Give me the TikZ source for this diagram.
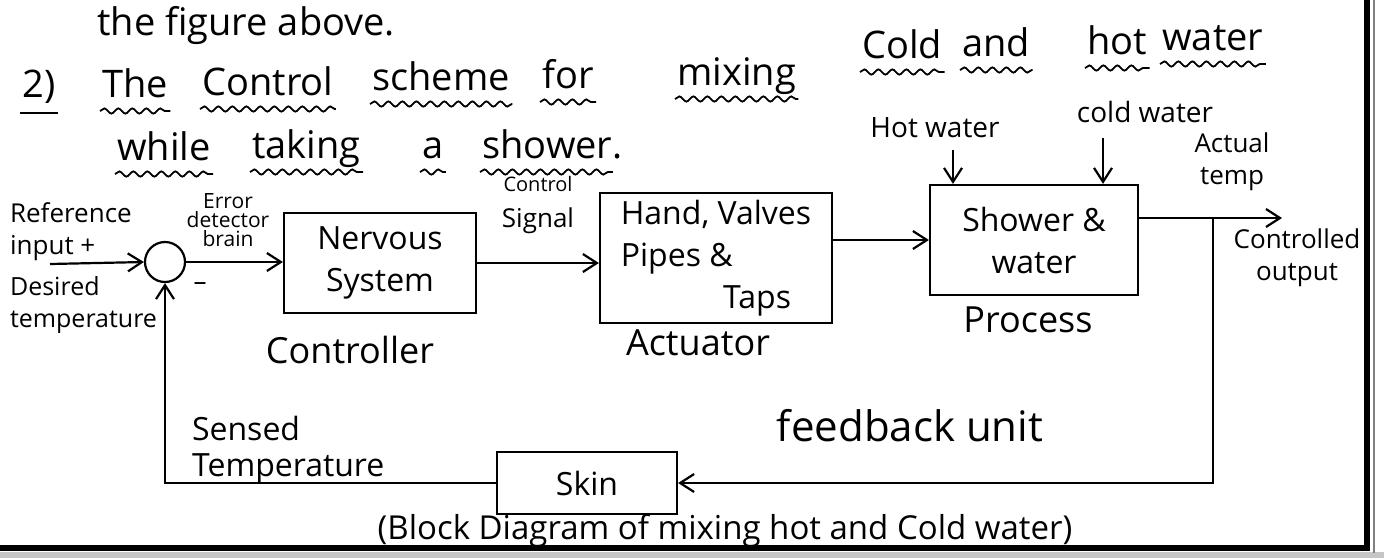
\documentclass[tikz,border=0pt]{standalone}
\usepackage{fontspec}
\setmainfont{Open Sans}
\usetikzlibrary{arrows.meta, decorations.pathmorphing}
\begin{document}
\begin{tikzpicture}[
            x=0.5pt, y=-0.5pt,
            block/.style={draw, line width=1.1pt, align=center, font=\fontsize{16}{21}\selectfont},
            sum/.style={draw, line width=1.1pt, circle, minimum size=20pt, inner sep=0pt},
            sig/.style={-{Straight Barb[length=7pt, width=9pt]}, line width=1.1pt},
            title/.style={anchor=base west, inner sep=1pt, font=\fontsize{19}{22}\selectfont},
            lab/.style={align=center, font=\fontsize{13}{16}\selectfont},
            big/.style={font=\fontsize{18}{20}\selectfont},
            note/.style={align=center, font=\fontsize{10.5}{9.5}\selectfont},
            wavy/.style={decorate, decoration={snake, amplitude=1.3pt, segment length=7pt}, line width=0.9pt}
        ]
        \useasboundingbox (0,0) rectangle (1384,558);

        % Rahmen
        \fill[gray!45] (0,552) rectangle (1384,558);
        \draw[line width=3pt] (0,548) -- (1367,548) -- (1367,0);
        \draw[gray, line width=0.6pt] (1374,0) -- (1374,553);

        % Überschrift
        \node[title] (fig) at (95,35) {the figure above.};
        \foreach \w/\x/\y/\n in {2)/20/97/w0, The/100/97/w1, Control/200/95/w2,
                scheme/370/90/w3, for/540/88/w4, mixing/675/85/w5, Cold/860/58/w6,
                and/960/56/w7, hot/1085/54/w8, water/1160/50/w9,
                while/115/160/v1, taking/250/158/v2, a/420/158/v3, shower./480/158/v4} {
                \node[title] (\n) at (\x,\y) {\w};
            }
        \draw[line width=1.1pt] ([yshift=-8pt]w0.base west) -- ([yshift=-8pt]w0.base east);
        \foreach \n in {w1, w2, w3, w4, w5, w6, w7, w8, w9, v1, v2, v3} {
                \draw[wavy] ([yshift=-7pt]\n.base west) -- ([yshift=-7pt]\n.base east);
            }
        \draw[wavy] ([yshift=-7pt]v4.base west) -- ([yshift=-7pt, xshift=-6pt]v4.base east);

        % Blöcke
        \node[sum] (sum) at (165,262) {};
        \node[block, minimum width=96pt, minimum height=50pt] (ctrl) at (380,263) {Nervous\\System};
        \node[block, minimum width=116pt, minimum height=57pt, align=left] (act) at (716,258) {Hand, Valves\\Pipes \&\\\hspace{3.2em}Taps};
        \node[block, minimum width=104pt, minimum height=55pt] (proc) at (1034,240) {Shower \&\\water};
        \node[block, minimum width=90pt, minimum height=31pt] (skin) at (587,483) {Skin};

        \coordinate (in) at (50,264);
        \coordinate (hw) at (953,150);
        \coordinate (cw) at (1103,138);
        \coordinate (out) at (1282,218);
        \coordinate (br) at (1213,218);

        % Signalpfeile
        \draw[sig] (in) -- (sum.west);
        \draw[sig] (sum.east) -- (ctrl.west |- sum.east);
        \draw[sig] (ctrl.east) -- (act.west |- ctrl.east);
        \draw[sig] (act.east |- proc.west) -- (proc.west);
        \draw[sig] (hw) -- (hw |- proc.north);
        \draw[sig] (cw) -- (cw |- proc.north);
        \draw[sig] (proc.east |- out) -- (out);
        \draw[sig] (br) |- (skin.east);
        \draw[sig] (skin.west) -| (sum.south);

        % Beschriftungen
        \node[lab, align=left, anchor=west] (ref) at (3,232) {Reference\\input +};
        \node[lab, align=left, anchor=west, font=\fontsize{12.5}{16}\selectfont] (des) at (3,305) {Desired\\temperature};
        \node[note] (err) at (228,220) {Error\\detector\\brain};
        \node[lab] (minus) at (200,287) {--};
        \node[lab] (csig) at (538,205) {{\fontsize{10}{12}\selectfont Control}\\[2pt]Signal};
        \node[lab, font=\fontsize{14}{16}\selectfont] (hwl) at (935,128) {Hot water};
        \node[lab, font=\fontsize{14}{16}\selectfont] (cwl) at (1145,112) {cold water};
        \node[lab] (actl) at (1232,162) {Actual\\temp};
        \node[lab] (outl) at (1297,258) {Controlled\\output};
        \node[lab, big] (ctrll) at (350,350) {Controller};
        \node[lab, big] (actl2) at (698,343) {Actuator};
        \node[lab, big] (procl) at (1028,320) {Process};
        \node[lab, font=\fontsize{21}{22}\selectfont] (fbl) at (910,426) {feedback unit};
        \node[lab, align=left, anchor=west, font=\fontsize{16}{18}\selectfont] (sen) at (185,450) {Sensed\\Temperature};
        \node[lab, font=\fontsize{16.5}{18}\selectfont] (cap) at (725,531) {(Block Diagram of mixing hot and Cold water)};
    \end{tikzpicture}
\end{document}
